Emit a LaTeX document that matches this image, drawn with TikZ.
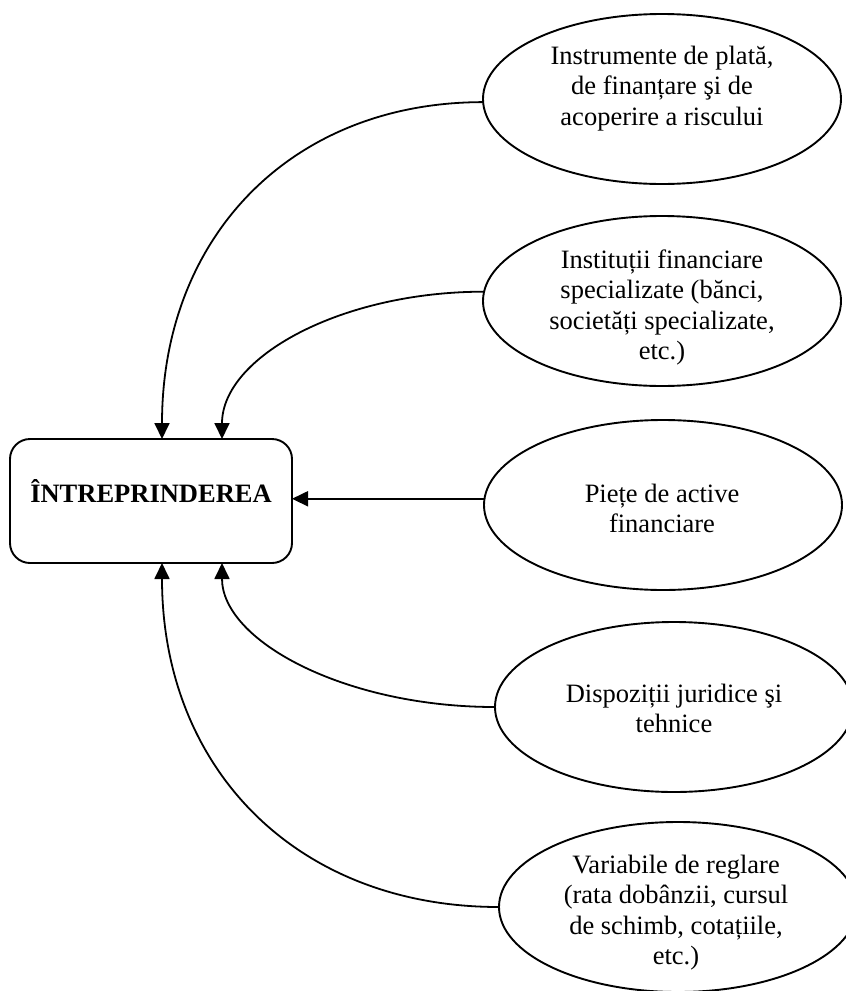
\documentclass[tikz,border=0pt]{standalone}
\usepackage{fontspec}
\setmainfont{Liberation Serif}
\usetikzlibrary{arrows.meta,shapes.geometric}
\begin{document}
\begin{tikzpicture}[x=1pt,y=-1pt,
  every node/.style={inner sep=0pt, outer sep=0pt},
  ell/.style={draw, ellipse, line width=1.9pt, minimum width=358pt, minimum height=170pt},
  lbl/.style={align=center, font=\fontsize{26.5}{30.5}\selectfont, anchor=north},
  boxst/.style={draw, rounded corners=20pt, line width=1.9pt, minimum width=282pt, minimum height=124pt},
  conn/.style={line width=1.8pt, -{Triangle[length=16pt,width=15pt]}}
]
\clip (0,0) rectangle (846,991);
\useasboundingbox (0,0) rectangle (846,991);

% main box
\node[boxst] (box) at (151,501) {};
\node[anchor=base, font=\fontsize{26.5}{30.5}\selectfont\bfseries] (bt) at (151,502) {ÎNTREPRINDEREA};

% ellipses
\node[ell] (e1) at (662,99) {};
\node[ell] (e2) at (662,301) {};
\node[ell] (e3) at (663,505) {};
\node[ell] (e4) at (674,707) {};
\node[ell] (e5) at (678,907) {};

% texts
\node[lbl] (t1) at (662,42.65) {\strut Instrumente de plată,\\de finanțare şi de\\acoperire a riscului};
\node[lbl] (t2) at (662,246.65) {\strut Instituții financiare\\specializate (bănci,\\societăți specializate,\\etc.)};
\node[lbl] (t3) at (662,480.65) {\strut Piețe de active\\financiare};
\node[lbl] (t4) at (674,680.65) {\strut Dispoziții juridice şi\\tehnice};
\node[lbl] (t5) at (676,851.65) {\strut Variabile de reglare\\(rata dobânzii, cursul\\de schimb, cotațiile,\\etc.)};

% connectors
\draw[conn] (e1.181) .. controls +(-192,0) and +(0,-202) .. ([xshift=152pt]box.north west);
\draw[conn] (e2.177) .. controls +(-143,0) and +(0,-82) .. ([xshift=212pt]box.north west);
\draw[conn] (e3.178) -- (e3.178 -| box.east);
\draw[conn] (e4.west) .. controls +(-150,0) and +(0,78) .. ([xshift=212pt]box.south west);
\draw[conn] (e5.west) .. controls +(-202,0) and +(0,206) .. ([xshift=152pt]box.south west);
\end{tikzpicture}
\end{document}
